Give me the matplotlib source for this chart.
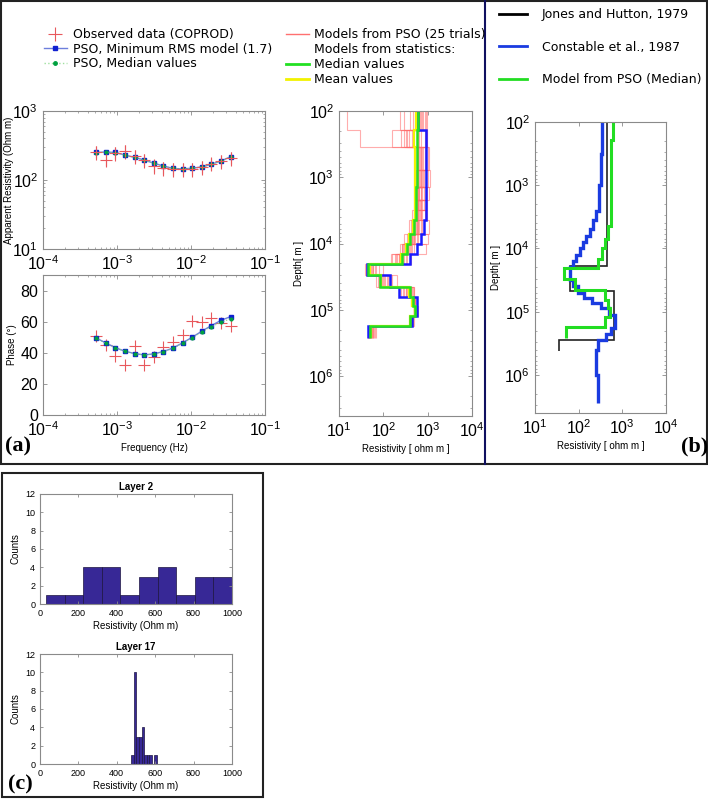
import matplotlib.pyplot as plt
from matplotlib.lines import Line2D
from matplotlib.patches import Rectangle

plt.rcParams['font.family'] = ['Liberation Sans', 'DejaVu Sans']
plt.rcParams['mathtext.fontset'] = 'custom'
plt.rcParams['mathtext.rm'] = 'Liberation Sans'

W, H = 708, 799

# ---- MT sounding (COPROD) ----
freq = [5.2e-4, 7.0e-4, 9.5e-4, 1.28e-3, 1.73e-3, 2.33e-3, 3.14e-3, 4.24e-3,
        5.72e-3, 7.7e-3, 1.04e-2, 1.40e-2, 1.89e-2, 2.55e-2, 3.45e-2]
rho_obs = [251, 197, 245, 263, 223, 193, 162, 149, 142, 142, 145, 153, 173, 187, 206]
rho_err = [55, 45, 55, 60, 50, 45, 38, 35, 33, 33, 34, 35, 40, 42, 47]
rho_rms = [251, 254, 251, 230, 213, 195, 175, 160, 147, 145, 148, 155, 169, 189, 218]
rho_med = [249, 252, 249, 229, 212, 194, 174, 159, 147, 145, 148, 154, 168, 187, 215]
phase_obs = [51.1, 45.1, 37.8, 32.2, 44.2, 32.2, 37.1, 43.6, 47.2, 51.7, 60.7, 59.7, 62.2, 59.0, 57.5]
phase_rms = [49.6, 46.4, 43.3, 41.0, 39.5, 38.6, 39.3, 40.8, 43.1, 46.4, 50.0, 53.9, 57.5, 60.9, 63.3]
phase_med = [49.4, 46.2, 43.2, 40.9, 39.4, 38.6, 39.2, 40.6, 42.9, 46.1, 49.6, 53.4, 56.8, 59.6, 61.9]

# ---- layered models (depth edges in m, resistivity per layer in ohm m) ----
depth_edges = [100, 195, 350, 780, 1410, 2240, 3160, 4470, 7080, 10000, 14500,
               20400, 30200, 45700, 64600, 87100, 123000, 174000, 263000]
rho_median = [620, 560, 560, 560, 555, 550, 545, 480, 400, 340, 270, 46, 84, 400, 460, 520, 400, 50]
rho_mean = [540, 500, 520, 530, 530, 520, 510, 460, 380, 320, 250, 50, 90, 380, 450, 510, 400, 52]
rho_minrms = [620, 910, 910, 910, 910, 910, 910, 830, 690, 560, 400, 42, 142, 220, 560, 580, 440, 46]

# 16 PSO trials, one list per layer
trial_layers = [
    [15, 950, 800, 680, 560, 470, 400, 620, 900, 300, 700, 520, 850, 240, 640, 760],
    [30, 250, 300, 350, 380, 620, 650, 700, 850, 900, 980, 160, 560, 320, 450, 950],
    [700, 900, 560, 640, 1000, 800, 600, 520, 750, 480, 850, 620, 1050, 680, 580, 720],
    [650, 800, 1100, 560, 700, 620, 900, 540, 760, 480, 600, 840, 680, 1000, 580, 720],
    [600, 700, 560, 900, 650, 1050, 520, 760, 620, 480, 820, 580, 700, 640, 950, 540],
    [580, 640, 820, 520, 700, 600, 950, 480, 560, 760, 620, 680, 540, 900, 600, 720],
    [520, 600, 760, 480, 860, 560, 640, 700, 500, 620, 980, 540, 580, 660, 450, 720],
    [500, 450, 640, 560, 700, 420, 520, 600, 480, 380, 760, 540, 460, 1050, 580, 620],
    [420, 380, 520, 460, 340, 600, 450, 500, 360, 700, 400, 480, 1000, 440, 560, 300],
    [330, 280, 420, 360, 240, 500, 300, 380, 450, 260, 340, 900, 310, 400, 270, 360],
    [220, 160, 300, 260, 180, 350, 240, 200, 280, 150, 420, 230, 190, 320, 250, 270],
    [45, 38, 60, 50, 80, 42, 55, 65, 48, 100, 40, 52, 70, 46, 58, 44],
    [90, 120, 70, 150, 80, 100, 200, 85, 130, 75, 110, 95, 160, 88, 140, 105],
    [380, 300, 420, 250, 460, 350, 500, 320, 400, 280, 440, 360, 480, 330, 410, 390],
    [470, 430, 500, 460, 520, 440, 480, 510, 450, 490, 420, 530, 470, 460, 500, 480],
    [500, 480, 520, 490, 540, 495, 510, 500, 560, 490, 600, 500, 530, 495, 480, 520],
    [420, 380, 450, 400, 470, 430, 390, 460, 410, 440, 400, 480, 420, 450, 390, 430],
    [50, 45, 60, 55, 48, 70, 52, 46, 58, 65, 50, 54, 47, 62, 56, 49],
]

# reference models
jh_edges = [100, 19000, 46800, 282000, 417000]
jh_rho = [445, 63, 650, 35]
const_edges = [100, 316, 1000, 2510, 3550, 5010, 6310, 7940, 10000, 12600, 15800,
               20000, 31600, 39800, 50100, 60300, 72400, 87100, 112000, 178000,
               224000, 282000, 398000, 1000000, 2820000]
const_rho = [350, 320, 290, 250, 210, 180, 150, 125, 105, 88, 75, 65, 75, 95, 130,
             200, 320, 500, 680, 560, 430, 270, 250, 280]

# ---- histograms ----
h2_edges = [31, 128, 225, 322, 418, 515, 612, 709, 806, 903, 1000]
h2_counts = [1, 1, 4, 4, 1, 3, 4, 1, 3, 3]
h17_edges = [475, 488, 502, 515, 529, 542, 555, 569, 582, 596, 609]
h17_counts = [1, 10, 3, 3, 4, 1, 1, 1, 0, 1]

fig = plt.figure(figsize=(W / 100, H / 100), dpi=100)


def px_axes(l, t, r, b):
    return fig.add_axes([l / W, 1 - b / H, (r - l) / W, (b - t) / H])


def style(ax, size=12):
    for s in ax.spines.values():
        s.set_color('#8a8a8a')
        s.set_linewidth(0.8)
    ax.tick_params(which='both', direction='in', top=True, right=True,
                   colors='#8a8a8a', labelcolor='black', labelsize=size)
    ax.tick_params(which='major', length=3, width=0.6)
    ax.tick_params(which='minor', length=1.5, width=0.5)


# background frame axes
bg = fig.add_axes([0, 0, 1, 1], zorder=-1)
bg.set_xlim(0, W)
bg.set_ylim(H, 0)
bg.axis('off')
bg.add_patch(Rectangle((1, 1), 706, 463, fill=False, ec='#222222', lw=1.5))
bg.plot([485, 485], [1, 464], color='#101060', lw=1.5)
bg.add_patch(Rectangle((2, 473), 261, 324, fill=False, ec='#222222', lw=1.5))

red = '#e8585c'
c_rms = '#6d7fdc'
c_med = '#00a040'

# apparent resistivity
ax1 = px_axes(43, 111, 265, 249)
ax1.errorbar(freq, rho_obs, yerr=rho_err, fmt='+', color=red, ms=9, mew=0.8, elinewidth=0.8)
ax1.plot(freq, rho_rms, '-', color=c_rms, lw=1, marker='s', ms=3, mfc='#1020d0', mec='#1020d0')
ax1.plot(freq, rho_med, ':', color='#7fd07f', lw=0.8, marker='o', ms=2, mfc=c_med, mec=c_med)
ax1.set_xscale('log')
ax1.set_yscale('log')
ax1.set_xlim(1e-4, 1e-1)
ax1.set_ylim(10, 1000)
ax1.set_xticks([1e-4, 1e-3, 1e-2, 1e-1])
ax1.set_ylabel('Apparent Resistivity (Ohm m)', fontsize=7)
ax1.yaxis.set_label_coords(-0.13, 0.5)
style(ax1, size=11.5)

# phase
ax2 = px_axes(43, 275, 265, 415)
ax2.plot(freq, phase_obs, '+', color=red, ms=9, mew=0.8)
ax2.plot(freq, phase_rms, '-', color=c_rms, lw=1, marker='s', ms=3, mfc='#1020d0', mec='#1020d0')
ax2.plot(freq, phase_med, ':', color='#7fd07f', lw=0.8, marker='o', ms=2, mfc=c_med, mec=c_med)
ax2.set_xscale('log')
ax2.set_xlim(1e-4, 1e-1)
ax2.set_xticks([1e-4, 1e-3, 1e-2, 1e-1])
ax2.set_ylim(0, 90)
ax2.set_yticks([0, 20, 40, 60, 80])
ax2.set_ylabel('Phase (°)', fontsize=7)
ax2.yaxis.set_label_coords(-0.117, 0.5)
ax2.set_xlabel('Frequency (Hz)', fontsize=7, labelpad=3)
style(ax2, size=11.5)

# depth models from PSO
ax3 = px_axes(339, 111, 472, 416)
n_trials = len(trial_layers[0])
for k in range(n_trials):
    vals = [layer[k] for layer in trial_layers]
    ax3.stairs(vals, depth_edges, orientation='horizontal', baseline=None,
               color='#ff6b6b', lw=0.8, alpha=0.55)
ax3.stairs(rho_minrms, depth_edges, orientation='horizontal', baseline=None, color='#1a1aff', lw=1.8)
ax3.stairs(rho_mean, depth_edges, orientation='horizontal', baseline=None, color='#f2f200', lw=1.6)
ax3.stairs(rho_median, depth_edges, orientation='horizontal', baseline=None, color='#22e022', lw=1.8)
ax3.set_xscale('log')
ax3.set_yscale('log')
ax3.set_xlim(10, 1e4)
ax3.set_ylim(4e6, 100)
ax3.set_xticks([10, 100, 1000, 10000])
ax3.set_yticks([1e2, 1e3, 1e4, 1e5, 1e6])
ax3.set_ylabel('Depth[ m ]', fontsize=7)
ax3.yaxis.set_label_coords(-0.263, 0.5)
ax3.set_xlabel('Resistivity [ ohm m ]', fontsize=7, labelpad=3)
style(ax3, size=11.5)

# comparison with published models
ax4 = px_axes(535, 122, 666, 413)
ax4.stairs(jh_rho, jh_edges, orientation='horizontal', baseline=None, color='#222222', lw=1.2)
ax4.stairs(const_rho, const_edges, orientation='horizontal', baseline=None, color='#1a3be0', lw=2.4)
ax4.stairs(rho_median, depth_edges, orientation='horizontal', baseline=None, color='#22dd22', lw=2.2)
ax4.set_xscale('log')
ax4.set_yscale('log')
ax4.set_xlim(10, 1e4)
ax4.set_ylim(4e6, 100)
ax4.set_xticks([10, 100, 1000, 10000])
ax4.set_yticks([1e2, 1e3, 1e4, 1e5, 1e6])
ax4.set_ylabel('Depth[ m ]', fontsize=7)
ax4.yaxis.set_label_coords(-0.26, 0.5)
ax4.set_xlabel('Resistivity [ ohm m ]', fontsize=7, labelpad=3)
style(ax4, size=11.5)

# legends
leg_font = {'family': 'DejaVu Sans', 'size': 9}
hA = [Line2D([], [], ls='none', marker='+', color=red, ms=10, mew=0.8),
      Line2D([], [], color=c_rms, lw=1, marker='s', ms=2.5, mfc='#1020d0', mec='#1020d0'),
      Line2D([], [], color='#9fe09f', ls=':', lw=1, marker='o', ms=2.5, mfc=c_med, mec=c_med)]
fig.legend(hA, ['Observed data (COPROD)', 'PSO, Minimum RMS model (1.7)', 'PSO, Median values'],
           loc='upper left', bbox_to_anchor=(44 / W, 1 - 28 / H), frameon=False, prop=leg_font,
           handlelength=1.8, handletextpad=0.5, labelspacing=0.13, borderpad=0, borderaxespad=0)
hB = [Line2D([], [], color='#ff7070', lw=1),
      Line2D([], [], color='none'),
      Line2D([], [], color='#22e022', lw=2),
      Line2D([], [], color='#f2f200', lw=2)]
fig.legend(hB, ['Models from PSO (25 trials)', 'Models from statistics:', 'Median values', 'Mean values'],
           loc='upper left', bbox_to_anchor=(286 / W, 1 - 28 / H), frameon=False, prop=leg_font,
           handlelength=1.8, handletextpad=0.4, labelspacing=0.17, borderpad=0, borderaxespad=0)
hC = [Line2D([], [], color='black', lw=2),
      Line2D([], [], color='#1a3be0', lw=2),
      Line2D([], [], color='#22dd22', lw=2)]
fig.legend(hC, ['Jones and Hutton, 1979', 'Constable et al., 1987', 'Model from PSO (Median)'],
           loc='upper left', bbox_to_anchor=(499 / W, 1 - 8 / H), frameon=False, prop=leg_font,
           handlelength=2.2, handletextpad=1.2, labelspacing=1.58, borderpad=0, borderaxespad=0)

# histograms
hist_color = '#372896'
for t, b, edges, counts, title in [(494, 604, h2_edges, h2_counts, 'Layer 2'),
                                   (654, 764, h17_edges, h17_counts, 'Layer 17')]:
    ax = px_axes(40, t, 232, b)
    widths = [edges[i + 1] - edges[i] for i in range(len(counts))]
    ax.bar(edges[:-1], counts, width=widths, align='edge', color=hist_color,
           edgecolor='#1c1440', linewidth=0.5)
    ax.set_xlim(0, 1000)
    ax.set_ylim(0, 12)
    ax.set_yticks(range(0, 13, 2))
    ax.set_xticks(range(0, 1001, 200))
    ax.set_title(title, fontsize=7, fontweight='bold', pad=3)
    ax.set_ylabel('Counts', fontsize=7, labelpad=3)
    ax.set_xlabel('Resistivity (Ohm m)', fontsize=7, labelpad=2)
    style(ax, size=6.5)
    ax.tick_params(which='major', length=2)

# panel letters
serif = {'family': 'Liberation Serif', 'weight': 'bold', 'size': 16}
fig.text(5 / W, 1 - 446 / H, '(a)', fontdict=serif, va='center')
fig.text(681 / W, 1 - 446 / H, '(b)', fontdict=serif, va='center')
fig.text(8 / W, 1 - 784 / H, '(c)', fontdict=serif, va='center')

fig.savefig('out.png', dpi=100)
